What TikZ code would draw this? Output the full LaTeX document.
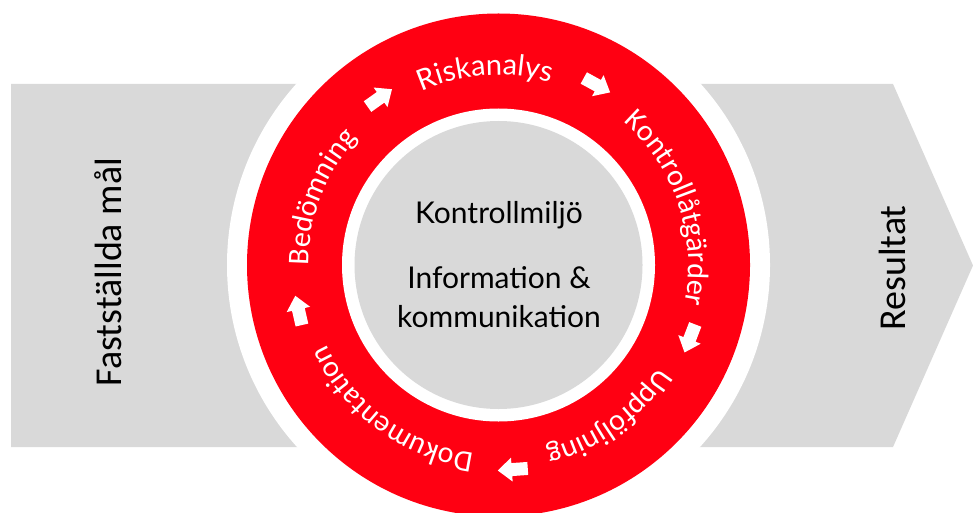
\documentclass[tikz,border=0pt]{standalone}
\usepackage{fontspec}
\setmainfont{Carlito}
\newfontfamily\gillfont{Lato}
\usetikzlibrary{decorations.text}
\definecolor{bandgrey}{RGB}{217,217,217}
\definecolor{ringred}{RGB}{255,0,18}
\newcommand\ringfont{\color{white}\fontsize{30}{32}\selectfont}
\newcommand\riskfont{\color{white}\gillfont\fontsize{29}{32}\selectfont}
\newcommand\ringlabel[3]{%
  \path[decorate, decoration={text along path, text align=center, text={|#2|#3}}]
    ([shift={(#1+80:190)}]C) arc[start angle=#1+80, end angle=#1-80, radius=190];}
\newcommand\ringarrow[1]{%
  \fill[white, shift={(C)}, rotate=#1] (198.5,15) -- (211.5,15) -- (211.5,-1) -- (217,-1)
    -- (205,-15) -- (193,-1) -- (198.5,-1) -- cycle;}
\begin{document}
\begin{tikzpicture}[x=1pt,y=1pt,
  bandtext/.style={rotate=90, anchor=base, font=\fontsize{38}{40}\selectfont, text=black, inner sep=0pt},
  centertext/.style={anchor=base, font=\gillfont\fontsize{30}{32}\selectfont, text=black, inner sep=0pt}]
\useasboundingbox (0,0) rectangle (973,512);
\coordinate (C) at (498.5,247);
% grey band with arrow point
\fill[bandgrey] (11,428) -- (893,428) -- (973,246.5) -- (893,65) -- (11,65) -- cycle;
% circles
\fill[white] (C) circle[radius=271.5];
\fill[ringred] (C) circle[radius=251.5];
\fill[white] (C) circle[radius=156.5];
\fill[bandgrey] (C) circle[radius=144];
% band texts
\node[bandtext] (mal) at (121.5,240) {Fastställda mål};
\node[bandtext] (res) at (905,244) {Resultat};
% centre texts
\node[centertext] (miljo) at (499,289) {Kontrollmiljö};
\node[centertext] (info) at (499,224) {Information \&};
\node[centertext] (komm) at (499,185) {kommunikation};
% ring texts
\ringlabel{94}{\riskfont}{Riskanalys}
\ringlabel{18.5}{\ringfont}{Kontrollåtgärder}
\ringlabel{-54}{\ringfont}{Uppföljning}
\ringlabel{-126.3}{\ringfont}{Dokumentation}
\ringlabel{159}{\ringfont}{Bedömning}
% arrows
\ringarrow{125.4}
\ringarrow{61.3}
\ringarrow{-21}
\ringarrow{-86}
\ringarrow{-167.2}
\end{tikzpicture}
\end{document}
